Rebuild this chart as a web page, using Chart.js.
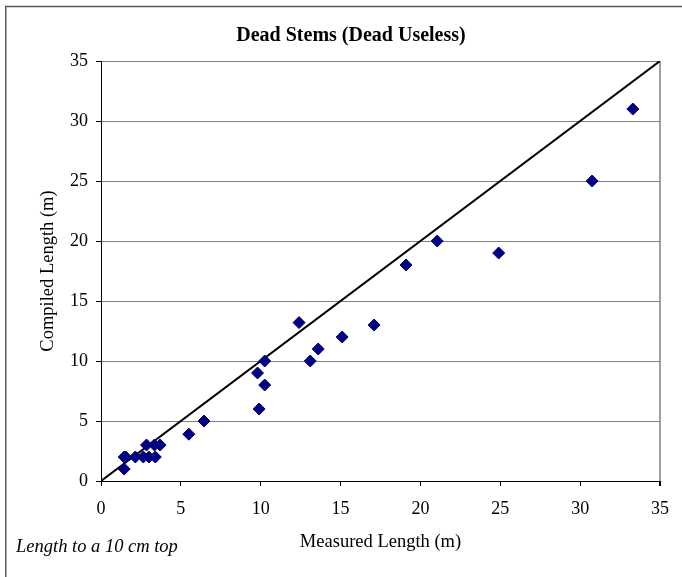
<!DOCTYPE html>
<html>
<head>
<meta charset="utf-8">
<script src="https://cdn.jsdelivr.net/npm/chart.js@4.4.1/dist/chart.umd.min.js"></script>
<style>
  body { margin: 0; background: #fff; }
  canvas { display: block; }
</style>
</head>
<body>
<canvas id="chart" width="682" height="577"></canvas>
<script>
// Measured vs compiled stem lengths (m)
const measuredLength = [1.45, 1.45, 1.55, 2.15, 2.65, 3.0, 3.4, 2.85, 3.35, 3.7,
    5.5, 6.45, 9.8, 9.9, 10.25, 10.25, 12.4, 13.1, 13.6, 15.1,
    17.1, 19.1, 21.05, 24.9, 30.75, 33.3];
const compiledLength = [1, 2, 2, 2, 2, 2, 2, 3, 3, 3,
    3.9, 5, 9, 6, 8, 10, 13.2, 10, 11, 12,
    13, 18, 20, 19, 25, 31];

// 1:1 reference line
const lineX = [0, 35];
const lineY = [0, 35];

const axisTicks = [0, 5, 10, 15, 20, 25, 30, 35];

const chartTitle = 'Dead Stems (Dead Useless)';
const footNote = 'Length to a 10 cm top';

Chart.defaults.font.family = "'Liberation Serif', 'Times New Roman', serif";
Chart.defaults.color = '#000';

// Draws the outer frame, the title and the footnote
const decorations = {
    id: 'decorations',
    beforeDraw(chart) {
        const ctx = chart.ctx;
        ctx.save();
        ctx.fillStyle = '#fff';
        ctx.fillRect(0, 0, chart.width, chart.height);
        ctx.strokeStyle = '#5a5a5a';
        ctx.lineWidth = 1.5;
        ctx.strokeRect(5.75, 6.5, 1000, 1000);
        ctx.restore();
    },
    afterDraw(chart) {
        const ctx = chart.ctx;
        ctx.save();
        ctx.fillStyle = '#000';
        ctx.textBaseline = 'alphabetic';
        ctx.textAlign = 'center';
        ctx.font = "bold 20px 'Liberation Serif', serif";
        ctx.fillText(chartTitle, 351, 41);
        ctx.textAlign = 'left';
        ctx.font = "italic 18.5px 'Liberation Serif', serif";
        ctx.fillText(footNote, 16, 552);
        ctx.restore();
    }
};

const ctx = document.getElementById('chart').getContext('2d');
const chart = new Chart(ctx, {
    type: 'scatter',
    data: {
        datasets: [{
            label: 'Stems',
            data: measuredLength.map((x, i) => ({ x: x, y: compiledLength[i] })),
            pointStyle: 'rectRot',
            pointRadius: 6,
            pointHoverRadius: 6,
            backgroundColor: '#000080',
            borderColor: '#000080',
            borderWidth: 1,
        }, {
            label: '1:1',
            data: lineX.map((x, i) => ({ x: x, y: lineY[i] })),
            showLine: true,
            pointRadius: 0,
            borderColor: '#000',
            borderWidth: 2,
            fill: false,
        }],
    },
    options: {
        responsive: false,
        animation: false,
        devicePixelRatio: 1,
        layout: {
            padding: { left: 0, top: 61, right: 22, bottom: 0 },
        },
        plugins: {
            legend: { display: false },
            tooltip: { enabled: false },
        },
        scales: {
            x: {
                type: 'linear',
                min: 0,
                max: 35,
                afterBuildTicks: (scale) => {
                    scale.ticks = axisTicks.map(v => ({ value: v }));
                },
                afterFit: (scale) => { scale.height = 96; },
                ticks: {
                    font: { size: 18 },
                    padding: 12,
                },
                grid: {
                    color: (c) => (c.tick && c.tick.value === 35) ? '#a0a0a0' : 'rgba(0,0,0,0)',
                    lineWidth: (c) => (c.tick && c.tick.value === 35) ? 2 : 1,
                    tickColor: '#000',
                    tickLength: 5,
                },
                border: { color: '#000', width: 1 },
                title: {
                    display: true,
                    text: 'Measured Length (m)',
                    font: { size: 18.5 },
                    padding: { top: 0, bottom: 24 },
                },
            },
            y: {
                type: 'linear',
                min: 0,
                max: 35,
                afterBuildTicks: (scale) => {
                    scale.ticks = axisTicks.map(v => ({ value: v }));
                },
                afterFit: (scale) => { scale.width = 101; },
                ticks: {
                    font: { size: 18 },
                    padding: 8,
                },
                grid: {
                    color: '#808080',
                    tickColor: '#000',
                    tickLength: 5,
                },
                border: { color: '#000', width: 1 },
                title: {
                    display: true,
                    text: 'Compiled Length (m)',
                    font: { size: 18.5 },
                    padding: { top: 37, bottom: 0 },
                },
            },
        },
    },
    plugins: [decorations],
});
</script>
</body>
</html>
